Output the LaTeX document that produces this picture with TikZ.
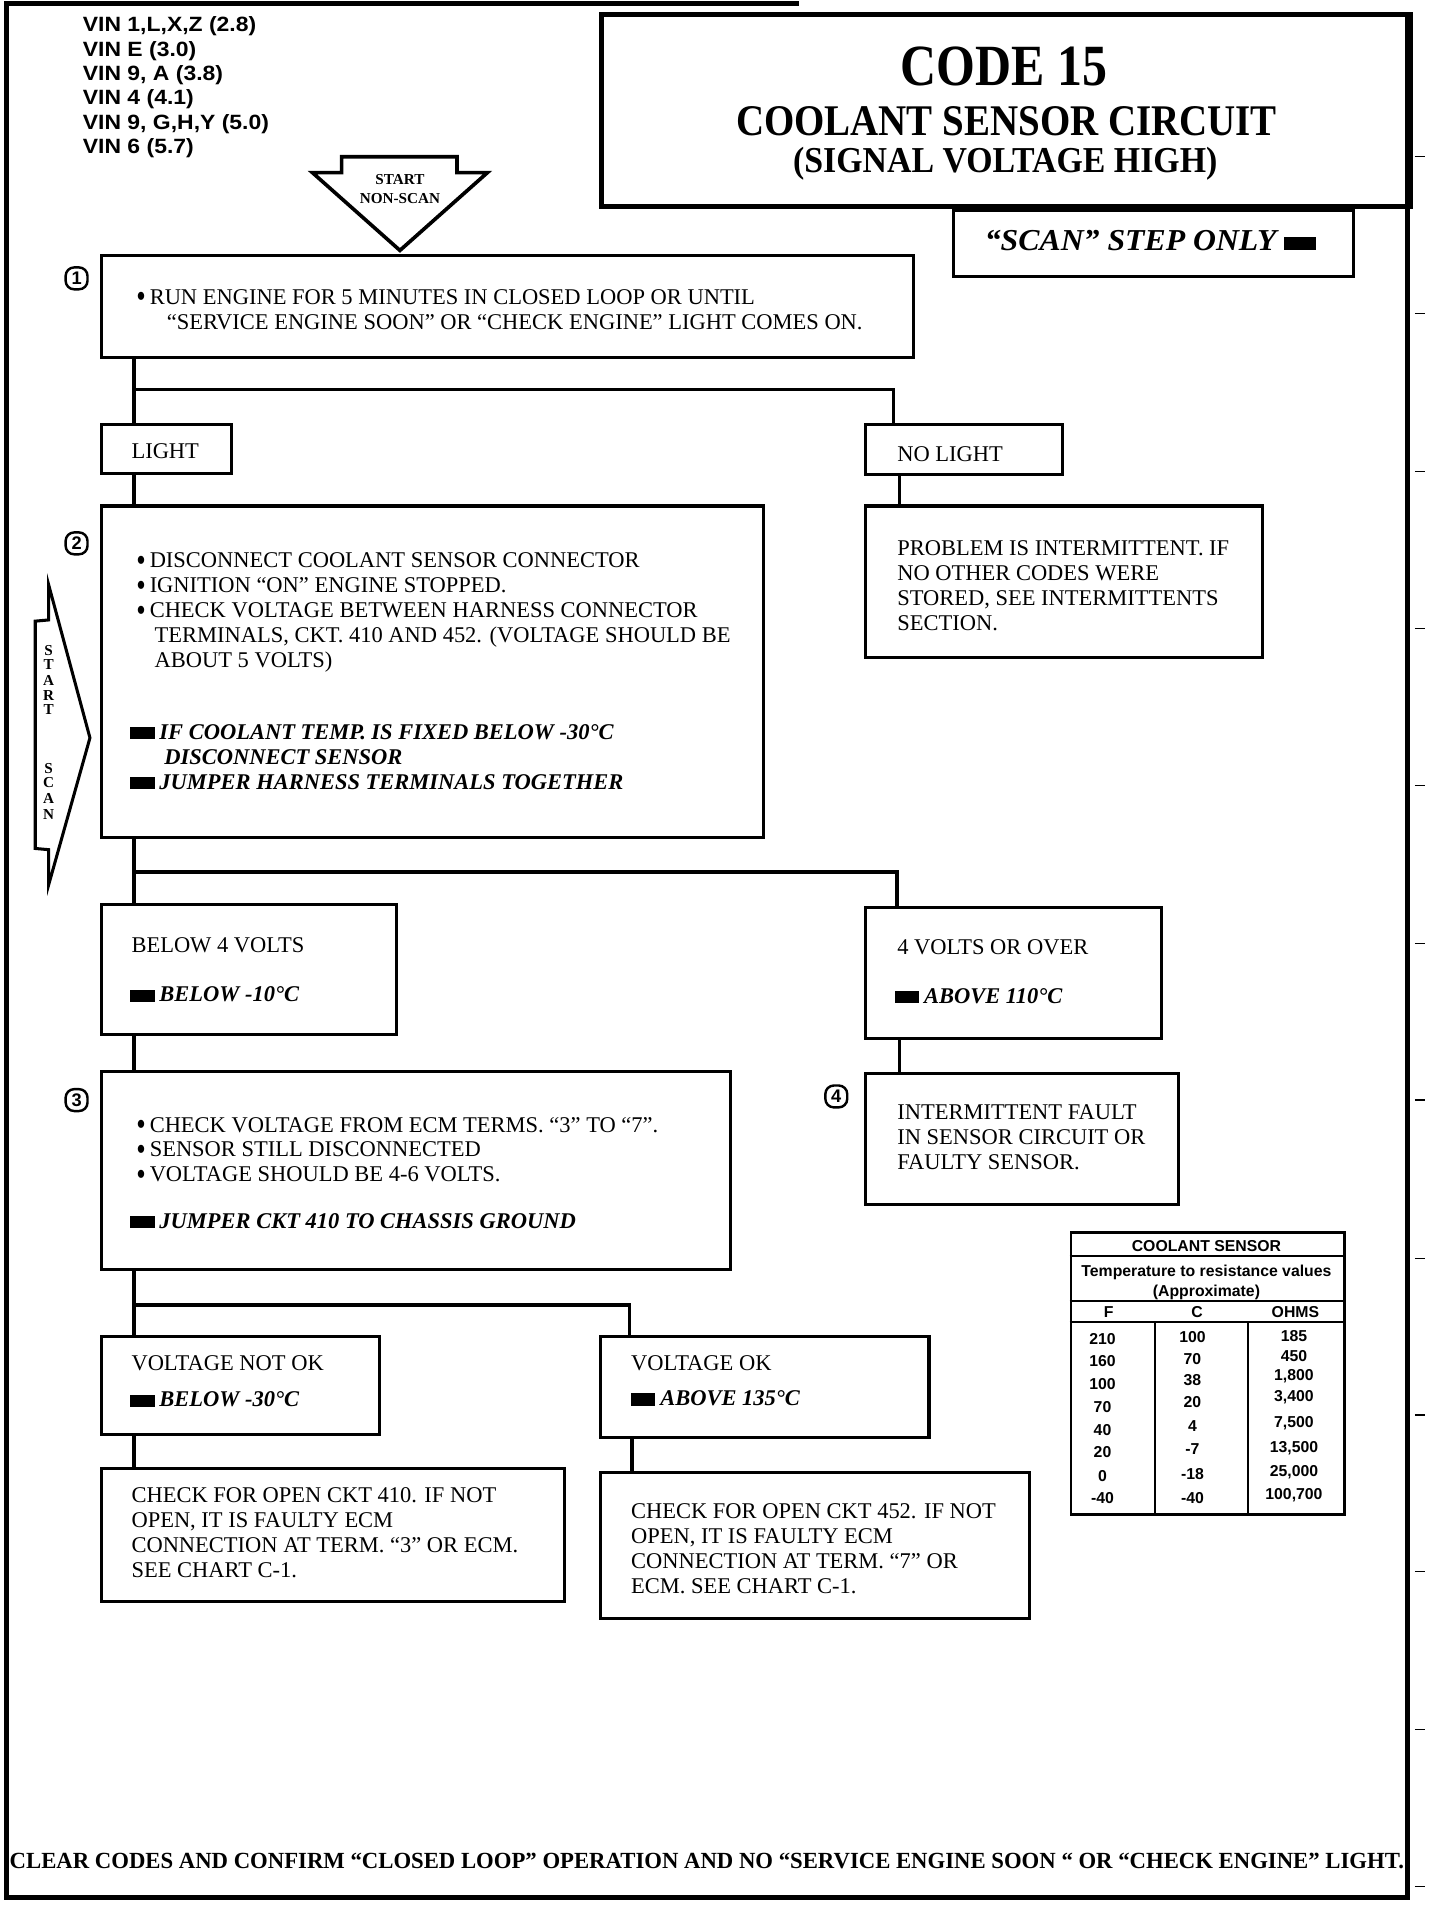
\documentclass[tikz,border=0pt]{standalone}
\usepackage{fontspec}
\usepackage{graphicx}
\setmainfont{Liberation Serif}
\newfontfamily\sansf{Liberation Sans}
\usetikzlibrary{calc,shapes.geometric}
\newcommand\bul{\makebox[11pt][l]{\raisebox{-3pt}[0pt][0pt]{\scalebox{1.2}[1.5]{•}}}}
\newcommand\blk{\rule{20pt}{10pt}\hspace{4pt}}
\tikzset{
  frameline/.style={line width=4pt},
  box/.style={draw, line width=2.5pt, inner sep=0pt, anchor=north west},
  conn/.style={line width=3pt},
  tx/.style={anchor=north west, inner sep=0pt, align=left, font=\fontsize{18.5}{20.5}\selectfont},
  bi/.style={anchor=north west, inner sep=0pt, align=left, font=\fontsize{18.5}{20.5}\selectfont\bfseries\itshape},
  num/.style={draw, rectangle, rounded corners=7pt, line width=2pt, minimum width=18pt, minimum height=18pt, inner sep=0pt, font=\sansf\bfseries\fontsize{15}{15}\selectfont},
  tbltxt/.style={anchor=base, inner sep=0pt, font=\sansf\bfseries\fontsize{13}{13}\selectfont},
  tick/.style={line width=1pt},
}
\begin{document}
\begin{tikzpicture}[x=1pt,y=-1pt]
\useasboundingbox (0,0) rectangle (1185,1568);

% outer frame
\draw[frameline] (657,3) -- (5,3) -- (5,1561) -- (1158,1561) -- (1158,10);
\foreach \yy in {129,258,388,517,646,776,905,1035,1164,1293,1423,1552}
  \draw[tick] (1164,\yy) -- (1172,\yy);

% title box
\node[draw, line width=4pt, inner sep=0pt, anchor=north west, minimum width=665pt, minimum height=158pt] (title) at (493,10) {};
\node[anchor=center, inner sep=0pt] (t1) at (826,55) {\resizebox{170pt}{\height}{\fontsize{48}{48}\selectfont\bfseries CODE 15}};
\node[anchor=center, inner sep=0pt] (t2) at (828,100) {\resizebox{445pt}{\height}{\fontsize{36}{36}\selectfont\bfseries COOLANT SENSOR CIRCUIT}};
\node[anchor=center, inner sep=0pt] (t3) at (827,135) {\resizebox{349pt}{\height}{\fontsize{30}{30}\selectfont\bfseries (SIGNAL VOLTAGE HIGH)}};

% scan step only
\node[box, minimum width=329pt, minimum height=54pt] (scan) at (783,172) {};
\node[anchor=base west, inner sep=0pt] (scant) at (810,206) {\resizebox{240pt}{\height}{\fontsize{25}{25}\selectfont\bfseries\itshape “SCAN” STEP ONLY}\hspace{6pt}\rule{26pt}{11pt}};

% VIN list
\node[anchor=north west, inner sep=0pt, font=\sansf\bfseries\fontsize{17}{20}\selectfont] (vin) at (68,12) {\scalebox{1.11}[1]{\begin{tabular}{@{}l@{}}VIN 1,L,X,Z (2.8)\\VIN E (3.0)\\VIN 9, A (3.8)\\VIN 4 (4.1)\\VIN 9, G,H,Y (5.0)\\VIN 6 (5.7)\end{tabular}}};

% start non-scan arrow
\draw[line width=3pt, line join=miter, fill=white] (281,129) -- (376,129) -- (376,142) -- (401,142) -- (329,206) -- (257,142) -- (281,142) -- cycle;
\node[anchor=center, inner sep=0pt, font=\fontsize{12.5}{12.5}\selectfont\bfseries] (ns1) at (329,148) {START};
\node[anchor=center, inner sep=0pt, font=\fontsize{12.5}{12.5}\selectfont\bfseries] (ns2) at (329,163) {NON-SCAN};

% start scan arrow
\draw[line width=2.5pt, line join=miter] (40,481) -- (40,510) -- (29,511) -- (29,698) -- (40,699) -- (40,728) -- (74,607) -- cycle;
\foreach \ch/\yy [count=\i] in {S/535,T/547,A/560,R/572,T/584,S/632,C/644,A/657,N/670}
  \node[anchor=center, inner sep=0pt, font=\fontsize{12.5}{12.5}\selectfont\bfseries] (ss\i) at (40,\yy) {\ch};

% boxes
\node[box, minimum width=668pt, minimum height=84pt] (b1) at (82,209) {};
\node[box, minimum width=107pt, minimum height=40pt] (light) at (82,348) {};
\node[box, minimum width=162pt, minimum height=41pt] (nolight) at (711,348) {};
\node[box, minimum width=545pt, minimum height=273pt] (b2) at (82,415) {};
\node[box, minimum width=326pt, minimum height=125pt] (prob) at (711,415) {};
\node[box, minimum width=243pt, minimum height=107pt] (below) at (82,743) {};
\node[box, minimum width=243pt, minimum height=108pt] (volts) at (711,745) {};
\node[box, minimum width=518pt, minimum height=163pt] (b3) at (82,880) {};
\node[box, minimum width=257pt, minimum height=108pt] (b4) at (711,882) {};
\node[box, minimum width=229pt, minimum height=81pt] (notok) at (82,1098) {};
\node[box, minimum width=270pt, minimum height=83pt] (ok) at (493,1098) {};
\node[box, minimum width=381pt, minimum height=109pt] (c410) at (82,1207) {};
\node[box, minimum width=353pt, minimum height=120pt] (c452) at (493,1210) {};

% step numbers
\node[num] (n1) at (63,229) {1};
\node[num] (n2) at (63,447) {2};
\node[num] (n3) at (63,905) {3};
\node[num] (n4) at (688,902) {4};

% connectors
\draw[conn] ($(b1.south west)+(28,0)$) -- ($(light.north west)+(28,0)$);
\draw[conn] ($(b1.south west)+(28,25)$) -| ($(nolight.north west)+(24,0)$);
\draw[conn] ($(light.south west)+(28,0)$) -- ($(b2.north west)+(28,0)$);
\draw[conn] ($(nolight.south west)+(29,0)$) -- ($(prob.north west)+(29,0)$);
\draw[conn] ($(b2.south west)+(28,0)$) -- ($(below.north west)+(28,0)$);
\draw[conn] ($(b2.south west)+(28,27)$) -| ($(volts.north west)+(27,0)$);
\draw[conn] ($(below.south west)+(28,0)$) -- ($(b3.north west)+(28,0)$);
\draw[conn] ($(volts.south west)+(29,0)$) -- ($(b4.north west)+(29,0)$);
\draw[conn] ($(b3.south west)+(28,0)$) -- ($(notok.north west)+(28,0)$);
\draw[conn] ($(b3.south west)+(28,28)$) -| ($(ok.north west)+(25,0)$);
\draw[conn] ($(notok.south west)+(28,0)$) -- ($(c410.north west)+(28,0)$);
\draw[conn] ($(ok.south west)+(27,0)$) -- ($(c452.north west)+(27,0)$);

% texts
\node[tx] (b1t) at (112,244-8.3) {\strut\bul RUN ENGINE FOR 5 MINUTES IN CLOSED LOOP OR UNTIL\\\hspace*{25pt}“SERVICE ENGINE SOON” OR “CHECK ENGINE” LIGHT COMES ON.};
\node[tx] (lightt) at (108,371-8.3) {\strut LIGHT};
\node[tx] (nolightt) at (738,373-8.3) {\strut NO LIGHT};
\node[tx] (b2t) at (112,461-8.3) {\strut\bul DISCONNECT COOLANT SENSOR CONNECTOR\\\bul IGNITION “ON” ENGINE STOPPED.\\\bul CHECK VOLTAGE BETWEEN HARNESS CONNECTOR\\\hspace*{15pt}TERMINALS, CKT. 410 AND 452. (VOLTAGE SHOULD BE\\\hspace*{15pt}ABOUT 5 VOLTS)};
\node[bi] (b2s) at (107,602-8.3) {\strut\blk IF COOLANT TEMP. IS FIXED BELOW -30°C\\\hspace*{28pt}DISCONNECT SENSOR\\\blk JUMPER HARNESS TERMINALS TOGETHER};
\node[tx] (probt) at (738,451-8.3) {\strut PROBLEM IS INTERMITTENT. IF\\NO OTHER CODES WERE\\STORED, SEE INTERMITTENTS\\SECTION.};
\node[tx] (belowt) at (108,777-8.3) {\strut BELOW 4 VOLTS};
\node[bi] (belows) at (107,818-8.3) {\strut\blk BELOW -10°C};
\node[tx] (voltst) at (738,779-8.3) {\strut 4 VOLTS OR OVER};
\node[bi] (voltss) at (736,819-8.3) {\strut\blk ABOVE 110°C};
\node[tx] (b3t) at (112,925-8.3) {\strut\bul CHECK VOLTAGE FROM ECM TERMS. “3” TO “7”.\\\bul SENSOR STILL DISCONNECTED\\\bul VOLTAGE SHOULD BE 4-6 VOLTS.};
\node[bi] (b3s) at (107,1004-8.3) {\strut\blk JUMPER CKT 410 TO CHASSIS GROUND};
\node[tx] (b4t) at (738,915-8.3) {\strut INTERMITTENT FAULT\\IN SENSOR CIRCUIT OR\\FAULTY SENSOR.};
\node[tx] (notokt) at (108,1121-8.3) {\strut VOLTAGE NOT OK};
\node[bi] (notoks) at (107,1151-8.3) {\strut\blk BELOW -30°C};
\node[tx] (okt) at (519,1121-8.3) {\strut VOLTAGE OK};
\node[bi] (oks) at (519,1150-8.3) {\strut\blk ABOVE 135°C};
\node[tx] (c410t) at (108,1230-8.3) {\strut CHECK FOR OPEN CKT 410. IF NOT\\OPEN, IT IS FAULTY ECM\\CONNECTION AT TERM. “3” OR ECM.\\SEE CHART C-1.};
\node[tx] (c452t) at (519,1243-8.3) {\strut CHECK FOR OPEN CKT 452. IF NOT\\OPEN, IT IS FAULTY ECM\\CONNECTION AT TERM. “7” OR\\ECM. SEE CHART C-1.};

% table
\node[draw, line width=2pt, inner sep=0pt, anchor=north west, minimum width=225pt, minimum height=232pt] (tbl) at (880,1013) {};
\draw[line width=1.5pt] ($(tbl.north west)+(0,20)$) -- ($(tbl.north east)+(0,20)$);
\draw[line width=1.5pt] ($(tbl.north west)+(0,57.6)$) -- ($(tbl.north east)+(0,57.6)$);
\draw[line width=1.5pt] ($(tbl.north west)+(0,74.6)$) -- ($(tbl.north east)+(0,74.6)$);
\draw[line width=1.5pt] ($(tbl.north west)+(70.5,74.6)$) -- ($(tbl.south west)+(70.5,0)$);
\draw[line width=1.5pt] ($(tbl.north west)+(146.5,74.6)$) -- ($(tbl.south west)+(146.5,0)$);
\node[tbltxt] (th1) at (992.5,1029.2) {COOLANT SENSOR};
\node[tbltxt] (th2) at (992.5,1050.4) {Temperature to resistance values};
\node[tbltxt] (th3) at (992.5,1066.3) {(Approximate)};
\node[tbltxt] (hf) at (912,1084.1) {F};
\node[tbltxt] (hc) at (984.8,1084.1) {C};
\node[tbltxt] (ho) at (1065.7,1084.1) {OHMS};
\foreach \v/\yy [count=\i] in {210/1101.3,160/1119.7,100/1138.3,70/1157.6,40/1176.2,20/1194.6,0/1213.8,-40/1232.5}
  \node[tbltxt] (tf\i) at (907,\yy+4.7) {\v};
\foreach \v/\yy [count=\i] in {100/1099.4,70/1117.8,38/1135.1,20/1153.5,4/1172.7,-7/1191.8,-18/1212.4,-40/1232.2}
  \node[tbltxt] (tc\i) at (981,\yy+4.7) {\v};
\foreach \v/\yy [count=\i] in {185/1098.6,450/1115,{1,800}/1130.7,{3,400}/1148,{7,500}/1169.9,{13,500}/1190,{25,000}/1209.7,{100,700}/1228.9}
  \node[tbltxt] (to\i) at (1064.5,\yy+4.7) {\v};

% footer
\node[anchor=center, inner sep=0pt] (foot) at (581.5,1531) {\resizebox{1147pt}{\height}{\fontsize{19}{19}\selectfont\bfseries CLEAR CODES AND CONFIRM “CLOSED LOOP” OPERATION AND NO “SERVICE ENGINE SOON “ OR “CHECK ENGINE” LIGHT.}};
\end{tikzpicture}
\end{document}
